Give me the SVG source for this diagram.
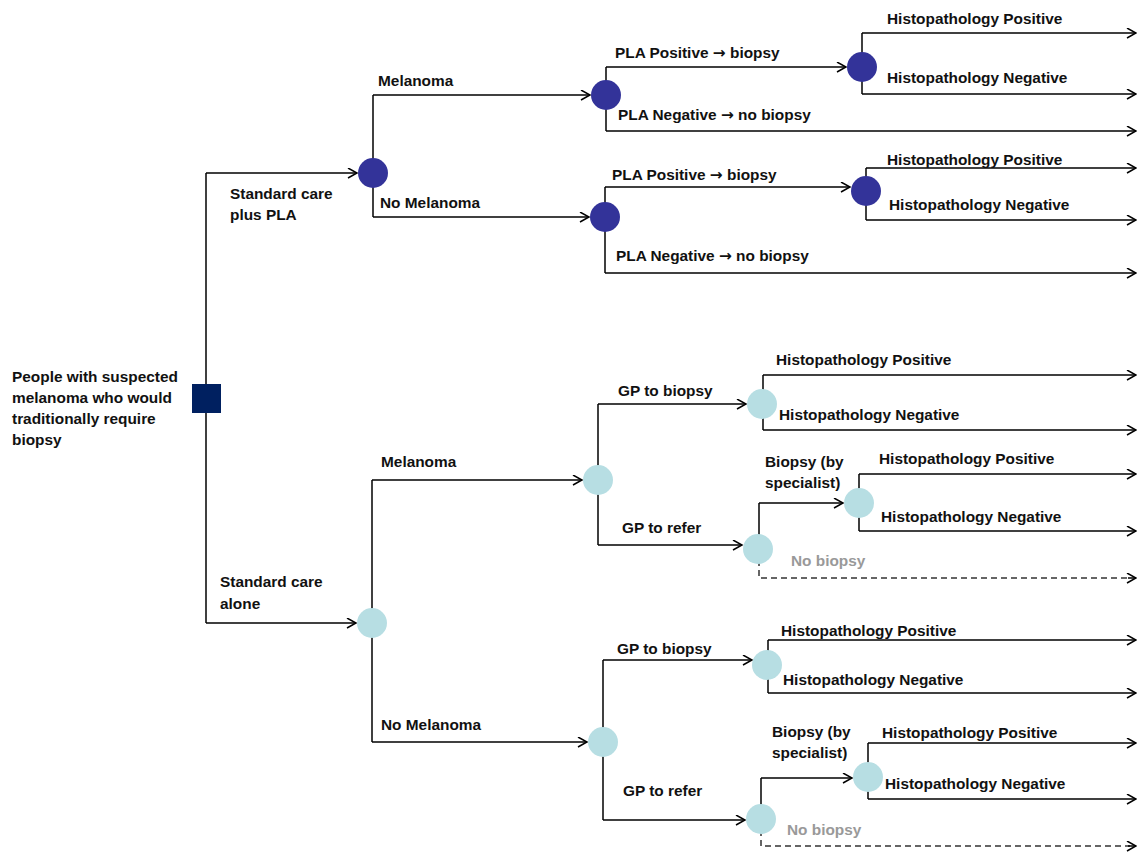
<svg xmlns="http://www.w3.org/2000/svg" width="1137" height="853" viewBox="0 0 1137 853">
<style>
text{font-family:"Liberation Sans",Arial,sans-serif;font-weight:bold;font-size:15.4px;fill:#111}
.g{fill:#999999}
.a{font-family:"DejaVu Sans",sans-serif;font-weight:bold}
.ln{fill:none;stroke:#000;stroke-width:1.5}
.ar{marker-end:url(#arr)}
.ds{fill:none;stroke:#333;stroke-width:1.5;stroke-dasharray:6,4}
.dk{fill:#333399}
.lt{fill:#b7dee3}
</style>
<defs>
<marker id="arr" markerWidth="12" markerHeight="12" refX="10" refY="5" orient="auto" markerUnits="userSpaceOnUse">
<path d="M1,0 L10,5 L1,10" fill="none" stroke="#000" stroke-width="1.5"/>
</marker>
</defs>
<rect width="1137" height="853" fill="#fff"/>
<g id="connectors">
<path class="ln" d="M206,173 V623"/>
<path class="ln ar" d="M206,173 H357"/>
<path class="ln ar" d="M206,623 H356"/>
<path class="ln" d="M373,95 V217"/>
<path class="ln ar" d="M373,95 H590"/>
<path class="ln ar" d="M373,217 H589"/>
<path class="ln" d="M606,67 V131"/>
<path class="ln ar" d="M606,67 H846"/>
<path class="ln ar" d="M606,131 H1136"/>
<path class="ln" d="M862,33 V94"/>
<path class="ln ar" d="M862,33 H1136"/>
<path class="ln ar" d="M862,94 H1136"/>
<path class="ln" d="M605,187 V273"/>
<path class="ln ar" d="M605,187 H850"/>
<path class="ln ar" d="M605,273 H1136"/>
<path class="ln" d="M866,168 V220"/>
<path class="ln ar" d="M866,168 H1136"/>
<path class="ln ar" d="M866,220 H1136"/>
<path class="ln" d="M372,480 V742"/>
<path class="ln ar" d="M372,480 H582"/>
<path class="ln ar" d="M372,742 H587"/>
<path class="ln" d="M598,404 V545"/>
<path class="ln ar" d="M598,404 H746"/>
<path class="ln ar" d="M598,545 H742"/>
<path class="ln" d="M763,375 V430"/>
<path class="ln ar" d="M763,375 H1136"/>
<path class="ln ar" d="M763,430 H1136"/>
<path class="ln" d="M759,503 V549"/>
<path class="ln ar" d="M759,503 H843"/>
<path class="ds" d="M759,560 V578 H1130"/>
<path class="ln ar" d="M1128,578 H1136"/>
<path class="ln" d="M859,474 V531"/>
<path class="ln ar" d="M859,474 H1136"/>
<path class="ln ar" d="M859,531 H1136"/>
<path class="ln" d="M603,660 V820"/>
<path class="ln ar" d="M603,660 H752"/>
<path class="ln ar" d="M603,820 H745"/>
<path class="ln" d="M768,640 V693"/>
<path class="ln ar" d="M768,640 H1136"/>
<path class="ln ar" d="M768,693 H1136"/>
<path class="ln" d="M761,778 V818"/>
<path class="ln ar" d="M761,778 H852"/>
<path class="ds" d="M761,830 V846 H1130"/>
<path class="ln ar" d="M1128,846 H1136"/>
<path class="ln" d="M868,743 V799"/>
<path class="ln ar" d="M868,743 H1136"/>
<path class="ln ar" d="M868,799 H1136"/>
</g>
<g id="root"><rect x="192" y="384" width="29" height="29" fill="#002060"/>
<text x="12" y="382">People with suspected</text><text x="12" y="403">melanoma who would</text><text x="12" y="424">traditionally require</text><text x="12" y="445">biopsy</text></g>
<g id="n-pla"><circle class="dk" cx="373" cy="173" r="15"/><text x="230" y="199">Standard care</text><text x="230" y="220">plus PLA</text></g>
<g id="n-pla-mel"><circle class="dk" cx="606" cy="95" r="15"/><text x="378" y="86">Melanoma</text></g>
<g id="n-pla-mel-pos"><circle class="dk" cx="862" cy="67" r="15"/><text x="615" y="58">PLA Positive <tspan class="a">→</tspan> biopsy</text><text x="618" y="120">PLA Negative <tspan class="a">→</tspan> no biopsy</text><text x="887" y="24">Histopathology Positive</text><text x="887" y="83">Histopathology Negative</text></g>
<g id="n-pla-nomel"><circle class="dk" cx="605" cy="217" r="15"/><text x="380" y="208">No Melanoma</text></g>
<g id="n-pla-nomel-pos"><circle class="dk" cx="866" cy="191" r="15"/><text x="612" y="180">PLA Positive <tspan class="a">→</tspan> biopsy</text><text x="616" y="261">PLA Negative <tspan class="a">→</tspan> no biopsy</text><text x="887" y="165">Histopathology Positive</text><text x="889" y="210">Histopathology Negative</text></g>
<g id="n-sc"><circle class="lt" cx="372" cy="623" r="15"/><text x="220" y="587">Standard care</text><text x="220" y="609">alone</text></g>
<g id="n-sc-mel"><circle class="lt" cx="598" cy="480" r="15"/><text x="381" y="467">Melanoma</text></g>
<g id="n-sc-mel-gpb"><circle class="lt" cx="762" cy="404" r="15"/><text x="618" y="396">GP to biopsy</text><text x="776" y="365">Histopathology Positive</text><text x="779" y="420">Histopathology Negative</text></g>
<g id="n-sc-mel-gpr"><circle class="lt" cx="758" cy="549" r="15"/><text x="622" y="533">GP to refer</text><text class="g" x="791" y="566">No biopsy</text></g>
<g id="n-sc-mel-spec"><circle class="lt" cx="859" cy="503" r="15"/><text x="765" y="467">Biopsy (by</text><text x="765" y="488">specialist)</text><text x="879" y="464">Histopathology Positive</text><text x="881" y="522">Histopathology Negative</text></g>
<g id="n-sc-nomel"><circle class="lt" cx="603" cy="742" r="15"/><text x="381" y="730">No Melanoma</text></g>
<g id="n-sc-nomel-gpb"><circle class="lt" cx="767" cy="665" r="15"/><text x="617" y="654">GP to biopsy</text><text x="781" y="636">Histopathology Positive</text><text x="783" y="685">Histopathology Negative</text></g>
<g id="n-sc-nomel-gpr"><circle class="lt" cx="761" cy="819" r="15"/><text x="623" y="796">GP to refer</text><text class="g" x="787" y="835">No biopsy</text></g>
<g id="n-sc-nomel-spec"><circle class="lt" cx="868" cy="777" r="15"/><text x="772" y="737">Biopsy (by</text><text x="772" y="758">specialist)</text><text x="882" y="738">Histopathology Positive</text><text x="885" y="789">Histopathology Negative</text></g>
</svg>
